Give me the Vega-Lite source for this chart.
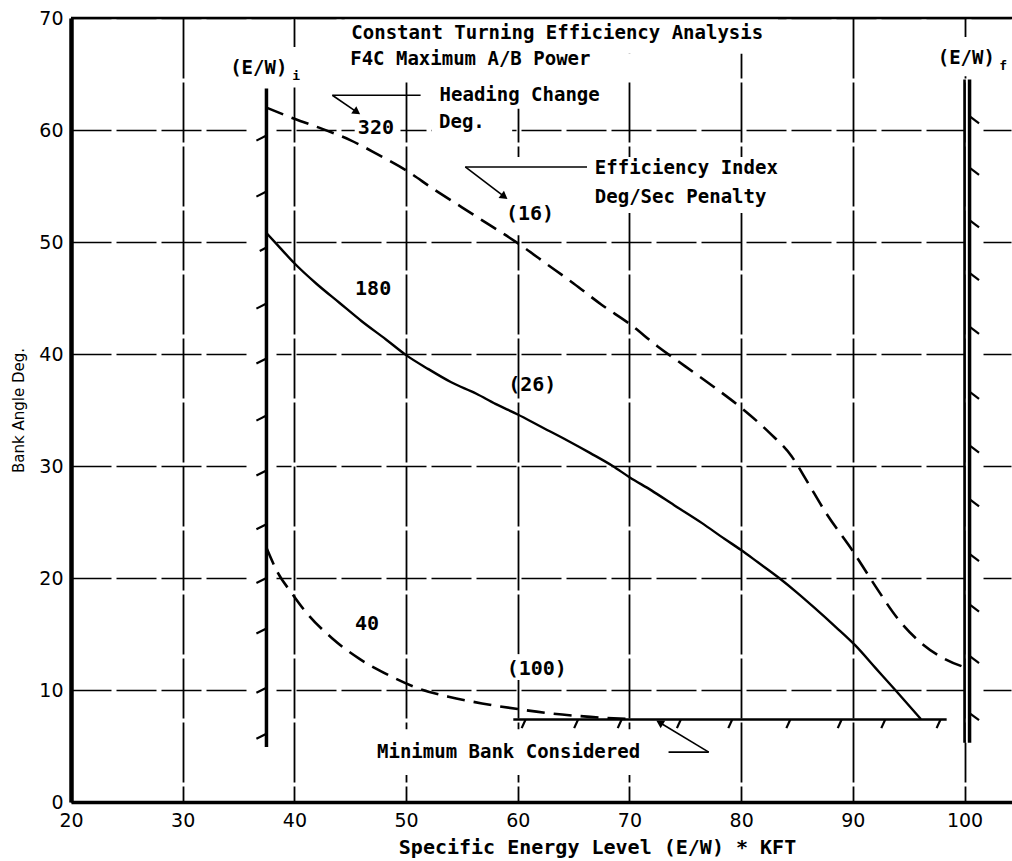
{
  "$schema": "https://vega.github.io/schema/vega-lite/v6.json",
  "width": 941,
  "height": 784,
  "autosize": {"type": "none"},
  "padding": {"left": 71, "top": 18, "right": 0, "bottom": 59},
  "background": "white",
  "config": {"view": {"stroke": null}, "font": "DejaVu Sans"},
  "datasets": {
    "curves": [
      {"series": "320", "x": 37.5, "y": 62.0}, {"series": "320", "x": 40, "y": 61.0}, {"series": "320", "x": 42.5, "y": 60.1},
      {"series": "320", "x": 45, "y": 59.1}, {"series": "320", "x": 47.5, "y": 57.8}, {"series": "320", "x": 50, "y": 56.4},
      {"series": "320", "x": 52.5, "y": 54.7}, {"series": "320", "x": 55, "y": 53.1}, {"series": "320", "x": 57.5, "y": 51.5},
      {"series": "320", "x": 60, "y": 49.9}, {"series": "320", "x": 62.5, "y": 48.1}, {"series": "320", "x": 65, "y": 46.3},
      {"series": "320", "x": 67.5, "y": 44.4}, {"series": "320", "x": 70, "y": 42.7}, {"series": "320", "x": 72.5, "y": 40.7},
      {"series": "320", "x": 75, "y": 38.9}, {"series": "320", "x": 77.5, "y": 37.1}, {"series": "320", "x": 80, "y": 35.2},
      {"series": "320", "x": 82.5, "y": 33.0}, {"series": "320", "x": 84.5, "y": 30.9}, {"series": "320", "x": 85.8, "y": 28.8},
      {"series": "320", "x": 87.6, "y": 25.8}, {"series": "320", "x": 90, "y": 22.4}, {"series": "320", "x": 92, "y": 19.3},
      {"series": "320", "x": 94, "y": 16.4}, {"series": "320", "x": 96, "y": 14.3}, {"series": "320", "x": 98, "y": 12.9},
      {"series": "320", "x": 100.4, "y": 11.9},
      {"series": "180", "x": 37.5, "y": 50.8}, {"series": "180", "x": 38.7, "y": 49.5}, {"series": "180", "x": 40, "y": 48.1},
      {"series": "180", "x": 42, "y": 46.25}, {"series": "180", "x": 44, "y": 44.6}, {"series": "180", "x": 46, "y": 42.95},
      {"series": "180", "x": 48.2, "y": 41.3}, {"series": "180", "x": 50, "y": 39.9}, {"series": "180", "x": 52, "y": 38.65},
      {"series": "180", "x": 54, "y": 37.5}, {"series": "180", "x": 56.3, "y": 36.45}, {"series": "180", "x": 58, "y": 35.55},
      {"series": "180", "x": 60, "y": 34.6}, {"series": "180", "x": 62, "y": 33.55}, {"series": "180", "x": 64.4, "y": 32.3},
      {"series": "180", "x": 66.5, "y": 31.15}, {"series": "180", "x": 68.5, "y": 30.0}, {"series": "180", "x": 70, "y": 29.0},
      {"series": "180", "x": 72, "y": 27.8}, {"series": "180", "x": 74, "y": 26.5}, {"series": "180", "x": 76.5, "y": 24.9},
      {"series": "180", "x": 78.5, "y": 23.5}, {"series": "180", "x": 80, "y": 22.5}, {"series": "180", "x": 81.5, "y": 21.4},
      {"series": "180", "x": 83.4, "y": 20.0}, {"series": "180", "x": 85, "y": 18.7}, {"series": "180", "x": 86.5, "y": 17.4},
      {"series": "180", "x": 88.5, "y": 15.6}, {"series": "180", "x": 90.2, "y": 14.0}, {"series": "180", "x": 92, "y": 12.0},
      {"series": "180", "x": 93.8, "y": 10.0}, {"series": "180", "x": 96.1, "y": 7.4},
      {"series": "40", "x": 37.5, "y": 22.7}, {"series": "40", "x": 38.5, "y": 20.5}, {"series": "40", "x": 39.8, "y": 18.6},
      {"series": "40", "x": 41, "y": 17.0}, {"series": "40", "x": 43.4, "y": 14.6}, {"series": "40", "x": 45.8, "y": 12.8},
      {"series": "40", "x": 48.5, "y": 11.3}, {"series": "40", "x": 51.5, "y": 10.0}, {"series": "40", "x": 53.8, "y": 9.4},
      {"series": "40", "x": 56.8, "y": 8.8}, {"series": "40", "x": 60, "y": 8.3}, {"series": "40", "x": 63, "y": 7.9},
      {"series": "40", "x": 66.5, "y": 7.6}, {"series": "40", "x": 70, "y": 7.4}
    ],
    "segments": [
      {"kind": "bound", "x": 37.5, "y": 63.7, "x2": 37.5, "y2": 4.9},
      {"kind": "bound", "x": 100.45, "y": 64.5, "x2": 100.45, "y2": 5.3},
      {"kind": "bound2", "x": 100.0, "y": 64.5, "x2": 100.0, "y2": 5.3},
      {"kind": "minbank", "x": 59.6, "y": 7.37, "x2": 98.4, "y2": 7.37},
      {"kind": "frame", "x": 20, "y": 70, "x2": 104.25, "y2": 70},
      {"kind": "hatch", "x": 37.5, "y": 59.5, "x2": 36.6, "y2": 59.05},
      {"kind": "hatch", "x": 37.5, "y": 54.5, "x2": 36.6, "y2": 54.05},
      {"kind": "hatch", "x": 37.5, "y": 49.5, "x2": 36.9, "y2": 49.2},
      {"kind": "hatch", "x": 37.5, "y": 44.5, "x2": 36.6, "y2": 44.05},
      {"kind": "hatch", "x": 37.5, "y": 39.6, "x2": 36.6, "y2": 39.15},
      {"kind": "hatch", "x": 37.5, "y": 34.5, "x2": 36.6, "y2": 34.05},
      {"kind": "hatch", "x": 37.5, "y": 29.6, "x2": 36.6, "y2": 29.15},
      {"kind": "hatch", "x": 37.5, "y": 24.8, "x2": 36.6, "y2": 24.35},
      {"kind": "hatch", "x": 37.5, "y": 20.0, "x2": 36.6, "y2": 19.55},
      {"kind": "hatch", "x": 37.5, "y": 15.5, "x2": 36.6, "y2": 15.05},
      {"kind": "hatch", "x": 37.5, "y": 10.2, "x2": 36.6, "y2": 9.75},
      {"kind": "hatch", "x": 37.5, "y": 6.1, "x2": 36.6, "y2": 5.65},
      {"kind": "hatch", "x": 100.5, "y": 61.2, "x2": 101.3, "y2": 60.6},
      {"kind": "hatch", "x": 100.5, "y": 56.6, "x2": 101.3, "y2": 56.0},
      {"kind": "hatch", "x": 100.5, "y": 51.9, "x2": 101.3, "y2": 51.3},
      {"kind": "hatch", "x": 100.5, "y": 47.2, "x2": 101.3, "y2": 46.6},
      {"kind": "hatch", "x": 100.5, "y": 42.4, "x2": 101.3, "y2": 41.8},
      {"kind": "hatch", "x": 100.5, "y": 36.6, "x2": 101.3, "y2": 36.0},
      {"kind": "hatch", "x": 100.5, "y": 31.8, "x2": 101.3, "y2": 31.2},
      {"kind": "hatch", "x": 100.5, "y": 27.0, "x2": 101.3, "y2": 26.4},
      {"kind": "hatch", "x": 100.5, "y": 22.1, "x2": 101.3, "y2": 21.5},
      {"kind": "hatch", "x": 100.5, "y": 17.6, "x2": 101.3, "y2": 17.0},
      {"kind": "hatch", "x": 100.5, "y": 13.0, "x2": 101.3, "y2": 12.4},
      {"kind": "hatch", "x": 100.5, "y": 7.9, "x2": 101.3, "y2": 7.3},
      {"kind": "hatch", "x": 60.7, "y": 7.37, "x2": 60.35, "y2": 6.6},
      {"kind": "hatch", "x": 65.4, "y": 7.37, "x2": 65.05, "y2": 6.6},
      {"kind": "hatch", "x": 69.3, "y": 7.37, "x2": 68.95, "y2": 6.6},
      {"kind": "hatch", "x": 74.6, "y": 7.37, "x2": 74.25, "y2": 6.6},
      {"kind": "hatch", "x": 79.2, "y": 7.37, "x2": 78.85, "y2": 6.6},
      {"kind": "hatch", "x": 84.4, "y": 7.37, "x2": 84.05, "y2": 6.6},
      {"kind": "hatch", "x": 89.0, "y": 7.37, "x2": 88.65, "y2": 6.6},
      {"kind": "hatch", "x": 92.9, "y": 7.37, "x2": 92.55, "y2": 6.6},
      {"kind": "hatch", "x": 97.85, "y": 7.37, "x2": 97.5, "y2": 6.6},
      {"kind": "leader", "x": 51.3, "y": 63.1, "x2": 43.4, "y2": 63.1},
      {"kind": "leader", "x": 43.4, "y": 63.1, "x2": 45.6, "y2": 61.6},
      {"kind": "leader", "x": 66.2, "y": 56.7, "x2": 55.3, "y2": 56.7},
      {"kind": "leader", "x": 55.3, "y": 56.7, "x2": 58.8, "y2": 54.05},
      {"kind": "leader", "x": 73.5, "y": 4.45, "x2": 77.1, "y2": 4.45},
      {"kind": "leader", "x": 77.1, "y": 4.45, "x2": 72.7, "y2": 7.1}
    ],
    "arrows": [
      {"x": 45.6, "y": 61.6, "dir": 125},
      {"x": 58.8, "y": 54.05, "dir": 127},
      {"x": 72.7, "y": 7.1, "dir": 301}
    ],
    "masks": [
      {"x": 44.5, "x2": 83.3, "y": 66.8, "y2": 70},
      {"x": 44.5, "x2": 71.5, "y": 64.3, "y2": 66.8},
      {"x": 52.4, "x2": 68.3, "y": 61.9, "y2": 64.3},
      {"x": 52.3, "x2": 59.5, "y": 59.3, "y2": 61.9},
      {"x": 45.4, "x2": 49.5, "y": 59.2, "y2": 61.2},
      {"x": 66.3, "x2": 83.6, "y": 52.6, "y2": 57.6},
      {"x": 59.3, "x2": 63.0, "y": 50.6, "y2": 57.6},
      {"x": 33.8, "x2": 40.9, "y": 63.8, "y2": 67.4},
      {"x": 97.3, "x2": 104.25, "y": 64.8, "y2": 68.3},
      {"x": 47.0, "x2": 73.2, "y": 2.4, "y2": 6.5},
      {"x": 59.2, "x2": 64.5, "y": 10.9, "y2": 13.2},
      {"x": 35.8, "x2": 38.4, "y": 5.0, "y2": 63.5},
      {"x": 100.1, "x2": 101.7, "y": 5.3, "y2": 64.5}
    ],
    "labels": [
      {"kind": "note", "x": 45.1, "y": 68.7, "text": "Constant Turning Efficiency Analysis"},
      {"kind": "note", "x": 45.0, "y": 66.3, "text": "F4C Maximum A/B Power"},
      {"kind": "note", "x": 53.0, "y": 63.1, "text": "Heading Change"},
      {"kind": "note", "x": 52.95, "y": 60.75, "text": "Deg."},
      {"kind": "note", "x": 66.9, "y": 56.6, "text": "Efficiency Index"},
      {"kind": "note", "x": 66.9, "y": 54.0, "text": "Deg/Sec Penalty"},
      {"kind": "note", "x": 47.4, "y": 4.45, "text": "Minimum Bank Considered"},
      {"kind": "note", "x": 34.25, "y": 65.5, "text": "(E/W)"},
      {"kind": "note", "x": 97.6, "y": 66.4, "text": "(E/W)"},
      {"kind": "sub", "x": 39.8, "y": 64.8, "text": "i"},
      {"kind": "sub", "x": 103.1, "y": 65.7, "text": "f"},
      {"kind": "num", "x": 47.3, "y": 60.15, "text": "320"},
      {"kind": "num", "x": 61.1, "y": 52.5, "text": "(16)"},
      {"kind": "num", "x": 47.05, "y": 45.8, "text": "180"},
      {"kind": "num", "x": 61.3, "y": 37.2, "text": "(26)"},
      {"kind": "num", "x": 46.5, "y": 15.9, "text": "40"},
      {"kind": "num", "x": 61.7, "y": 11.9, "text": "(100)"}
    ]
  },
  "encoding": {
    "x": {
      "field": "x", "type": "quantitative",
      "scale": {"domain": [20, 104.25], "nice": false, "zero": false},
      "axis": {
        "values": [20, 30, 40, 50, 60, 70, 80, 90, 100],
        "title": "Specific Energy Level (E/W) * KFT",
        "ticks": false, "labelPadding": 9, "labelFontSize": 19, "labelColor": "black",
        "labelFlush": false, "labelOverlap": false,
        "grid": true, "gridColor": "black", "gridWidth": 1.8, "gridDash": [60, 4], "gridOpacity": 1,
        "domainColor": "black", "domainWidth": 3.5,
        "titleFont": "DejaVu Sans Mono", "titleFontSize": 20, "titleFontWeight": "bold", "titleColor": "black",
        "titleX": 526, "titleY": 45, "titleBaseline": "middle", "titleAlign": "center"
      }
    },
    "y": {
      "field": "y", "type": "quantitative",
      "scale": {"domain": [0, 70], "nice": false, "zero": false},
      "axis": {
        "values": [0, 10, 20, 30, 40, 50, 60, 70],
        "title": "Bank Angle Deg.",
        "ticks": false, "labelPadding": 8, "labelFontSize": 19, "labelColor": "black",
        "labelFlush": false, "labelOverlap": false,
        "grid": true, "gridColor": "black", "gridWidth": 1.5, "gridDash": [40, 5], "gridOpacity": 1,
        "domainColor": "black", "domainWidth": 4.5,
        "titleFontSize": 15, "titleFontWeight": "normal", "titleColor": "black",
        "titleX": -53, "titleY": 392, "titleBaseline": "middle", "titleAngle": -90
      }
    }
  },
  "layer": [
    {
      "data": {"name": "masks"},
      "mark": {"type": "rect", "fill": "white", "stroke": null},
      "encoding": {"x2": {"field": "x2"}, "y2": {"field": "y2"}}
    },
    {
      "data": {"name": "curves"},
      "transform": [{"filter": "datum.series !== '180'"}],
      "mark": {"type": "line", "color": "black", "strokeWidth": 2.6, "strokeDash": [18, 9], "interpolate": "monotone"},
      "encoding": {"detail": {"field": "series"}}
    },
    {
      "data": {"name": "curves"},
      "transform": [{"filter": "datum.series === '180'"}],
      "mark": {"type": "line", "color": "black", "strokeWidth": 2.4, "interpolate": "monotone"},
      "encoding": {"detail": {"field": "series"}}
    },
    {
      "data": {"name": "segments"},
      "transform": [{"filter": "datum.kind === 'bound'"}],
      "mark": {"type": "rule", "color": "black", "strokeWidth": 3.5},
      "encoding": {"x2": {"field": "x2"}, "y2": {"field": "y2"}}
    },
    {
      "data": {"name": "segments"},
      "transform": [{"filter": "datum.kind === 'bound2' || datum.kind === 'minbank' || datum.kind === 'frame'"}],
      "mark": {"type": "rule", "color": "black", "strokeWidth": 2.6},
      "encoding": {"x2": {"field": "x2"}, "y2": {"field": "y2"}}
    },
    {
      "data": {"name": "segments"},
      "transform": [{"filter": "datum.kind === 'hatch'"}],
      "mark": {"type": "rule", "color": "black", "strokeWidth": 2.2},
      "encoding": {"x2": {"field": "x2"}, "y2": {"field": "y2"}}
    },
    {
      "data": {"name": "segments"},
      "transform": [{"filter": "datum.kind === 'leader'"}],
      "mark": {"type": "rule", "color": "black", "strokeWidth": 1.6},
      "encoding": {"x2": {"field": "x2"}, "y2": {"field": "y2"}}
    },
    {
      "data": {"name": "arrows"},
      "mark": {"type": "point", "shape": "triangle-up", "filled": true, "color": "black", "size": 80, "opacity": 1},
      "encoding": {"angle": {"field": "dir", "type": "quantitative", "scale": null}}
    },
    {
      "data": {"name": "labels"},
      "transform": [{"filter": "datum.kind === 'note'"}],
      "mark": {"type": "text", "align": "left", "baseline": "middle", "font": "DejaVu Sans Mono", "fontSize": 19, "fontWeight": "bold", "color": "black"},
      "encoding": {"text": {"field": "text"}}
    },
    {
      "data": {"name": "labels"},
      "transform": [{"filter": "datum.kind === 'sub'"}],
      "mark": {"type": "text", "align": "left", "baseline": "middle", "font": "DejaVu Sans Mono", "fontSize": 13, "fontWeight": "bold", "color": "black"},
      "encoding": {"text": {"field": "text"}}
    },
    {
      "data": {"name": "labels"},
      "transform": [{"filter": "datum.kind === 'num'"}],
      "mark": {"type": "text", "align": "center", "baseline": "middle", "font": "DejaVu Sans Mono", "fontSize": 20, "fontWeight": "bold", "color": "black"},
      "encoding": {"text": {"field": "text"}}
    }
  ]
}
